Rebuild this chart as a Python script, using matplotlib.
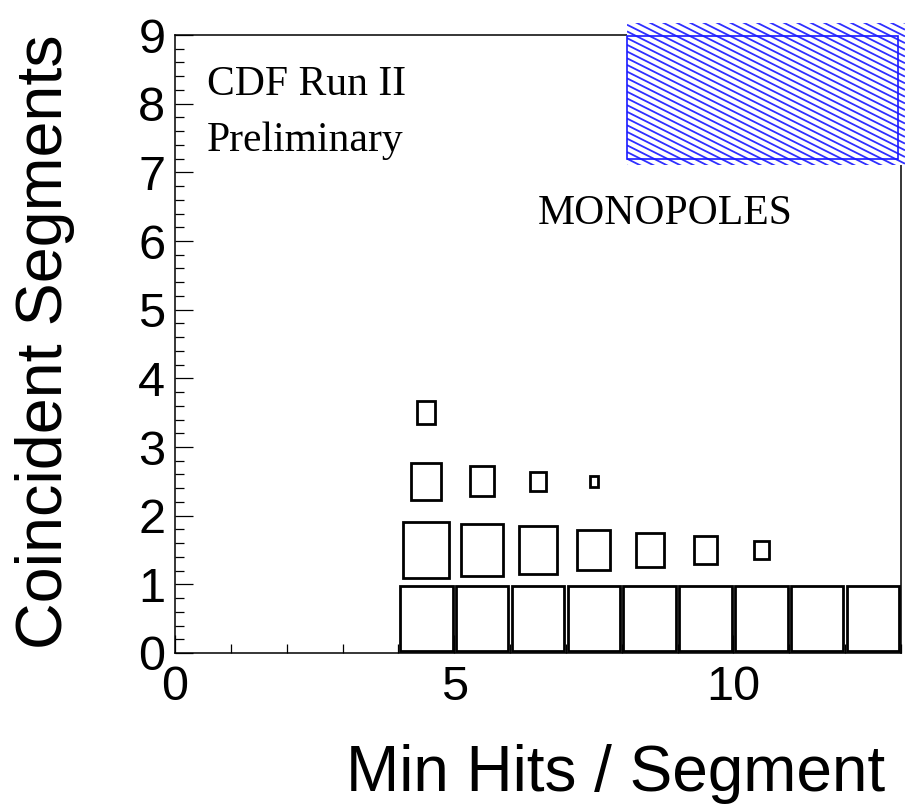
import matplotlib
matplotlib.use("Agg")
import matplotlib.pyplot as plt
from matplotlib.patches import Rectangle
from matplotlib.collections import LineCollection
from matplotlib.ticker import MultipleLocator, AutoMinorLocator
import numpy as np

# ---- data (relative bin content, per row of "Coincident Segments") ----
min_hits_row0 = [4, 5, 6, 7, 8, 9, 10, 11, 12]
content_row0 = [1.00, 1.00, 1.00, 1.00, 1.00, 1.00, 1.00, 1.00, 1.00]
min_hits_row1 = [4, 5, 6, 7, 8, 9, 10]
content_row1 = [0.88, 0.81, 0.73, 0.63, 0.53, 0.43, 0.28]
min_hits_row2 = [4, 5, 6, 7]
content_row2 = [0.57, 0.46, 0.30, 0.165]
min_hits_row3 = [4]
content_row3 = [0.35]
seg_rows = [0, 1, 2, 3]

x_ticks = [0, 5, 10]
y_ticks = [0, 1, 2, 3, 4, 5, 6, 7, 8, 9]

W, H = 912, 806
fig = plt.figure(figsize=(W / 100, H / 100), dpi=100)
fig.patch.set_facecolor("white")

def fx(x):
    return x / W

def fy(y):
    return 1 - y / H

ax_l, ax_r, ax_t, ax_b = 175, 901, 35, 653
ax = fig.add_axes([fx(ax_l), fy(ax_b), fx(ax_r - ax_l), (ax_b - ax_t) / H])
ax.set_xlim(0, 13)
ax.set_ylim(0, 9)

rows = [
    (seg_rows[0], min_hits_row0, content_row0),
    (seg_rows[1], min_hits_row1, content_row1),
    (seg_rows[2], min_hits_row2, content_row2),
    (seg_rows[3], min_hits_row3, content_row3),
]
vmax = max(max(r[2]) for r in rows)
fill = 0.94
for yrow, xs, vals in rows:
    for xb, v in zip(xs, vals):
        s = fill * v / vmax
        ax.add_patch(Rectangle((xb + 0.5 - s / 2, yrow + 0.5 - s / 2), s, s,
                               facecolor="none", edgecolor="black",
                               linewidth=2.0, zorder=3))

sans = ["Liberation Sans", "DejaVu Sans"]
serif = ["Liberation Serif", "DejaVu Serif"]

ax.set_xticks(x_ticks)
ax.set_yticks(y_ticks)
ax.set_xticklabels([str(t) for t in x_ticks], fontsize=35, family=sans)
ax.set_yticklabels([str(t) for t in y_ticks], fontsize=35, family=sans)
ax.xaxis.set_minor_locator(MultipleLocator(1))
ax.yaxis.set_minor_locator(AutoMinorLocator(5))
ax.tick_params(which="both", direction="in", top=False, right=False, width=0.9)
ax.tick_params(which="major", length=13)
ax.tick_params(which="minor", length=6.5)
ax.tick_params(axis="x", which="major", pad=9)
ax.tick_params(axis="y", which="major", pad=7)
for sp in ax.spines.values():
    sp.set_linewidth(1.1)

# axis titles
fig.text(fx(885), fy(791), "Min Hits / Segment", fontsize=46, family=sans,
         ha="right", va="baseline")
fig.text(fx(62), fy(34), "Coincident Segments", fontsize=46.5, family=sans,
         rotation=90, rotation_mode="anchor", ha="right", va="baseline")

# labels
fig.text(fx(207), fy(95), "CDF Run II", fontsize=30, family=serif, ha="left", va="baseline")
fig.text(fx(207), fy(151), "Preliminary", fontsize=30, family=serif, ha="left", va="baseline")
fig.text(fx(538), fy(224), "MONOPOLES", fontsize=30, family=serif, ha="left", va="baseline")

# hatched blue box (top right)
hx0, hy0, hx1, hy1 = 627, 23, 905, 165
bg = Rectangle((fx(hx0), fy(hy1)), fx(hx1 - hx0), (hy1 - hy0) / H,
               transform=fig.transFigure, facecolor="white", edgecolor="none", zorder=10)
fig.add_artist(bg)
slope = 0.5
spacing = 6.7
segs = []
b = hy0 - slope * (hx1 - hx0) - spacing
while b < hy1 + spacing:
    xa, xb_ = hx0, hx1
    ya, yb = b, b + slope * (hx1 - hx0)
    segs.append([(fx(xa), fy(ya)), (fx(xb_), fy(yb))])
    b += spacing
lc = LineCollection(segs, colors="#2f2fff", linewidths=1.3, transform=fig.transFigure, zorder=11)
fig.add_artist(lc)
lc.set_clip_path(bg)
outline = Rectangle((fx(627), fy(159)), fx(898 - 627), (159 - 36) / H,
                    transform=fig.transFigure, facecolor="none", edgecolor="#1a1aff",
                    linewidth=1.2, zorder=12)
fig.add_artist(outline)

fig.savefig("out.png", dpi=100, facecolor="white")
